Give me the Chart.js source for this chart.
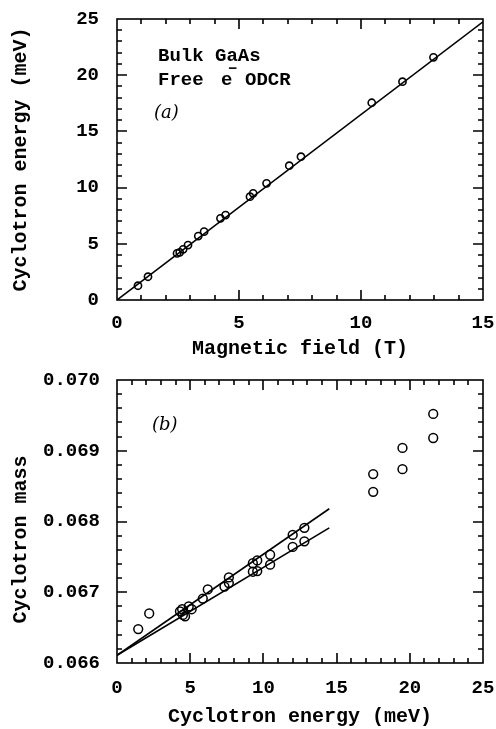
<!DOCTYPE html>
<html>
<head>
<meta charset="utf-8">
<script src="https://cdn.jsdelivr.net/npm/chart.js@4/dist/chart.umd.min.js"></script>
<style>
  html, body { margin: 0; padding: 0; background: #fff; }
  #wrap { position: relative; width: 496px; height: 729px; }
  canvas { position: absolute; left: 0; }
</style>
</head>
<body>
<div id="wrap">
  <canvas id="cTop" width="496" height="365" style="top:0"></canvas>
  <canvas id="cBot" width="496" height="364" style="top:365px"></canvas>
</div>
<script>
// panel (a): cyclotron energy vs magnetic field
const fieldT = [0.86, 1.27, 2.46, 2.57, 2.71, 2.91, 3.33, 3.57, 4.24, 4.45, 5.45, 5.58, 6.13, 7.06, 7.54, 10.44, 11.70, 12.97]
const energyA = [1.27, 2.07, 4.15, 4.24, 4.51, 4.89, 5.69, 6.08, 7.27, 7.56, 9.19, 9.49, 10.38, 11.95, 12.75, 17.55, 19.42, 21.59]
const fitA = [[0, 0], [15, 24.75]]

// panel (b): cyclotron mass vs cyclotron energy
const energyB = [1.45, 2.2, 4.3, 4.45, 4.5, 4.65, 4.9, 5.1, 5.86, 6.2, 7.34, 7.64, 7.64, 9.28, 9.58, 9.28, 9.58, 10.46, 10.46, 12.0, 12.0, 12.8, 12.8, 17.5, 17.5, 19.5, 19.5, 21.6, 21.6]
const massB = [0.06648, 0.06670, 0.06673, 0.06676, 0.06668, 0.06666, 0.06680, 0.06676, 0.06691, 0.06704, 0.06708, 0.06721, 0.06713, 0.06741, 0.06745, 0.06729, 0.06730, 0.06753, 0.06739, 0.06781, 0.06764, 0.06791, 0.06772, 0.06867, 0.06842, 0.06904, 0.06874, 0.06952, 0.06918]
const fitUpper = [[0, 0.06611], [14.5, 0.06818]]
const fitLower = [[0, 0.06611], [14.5, 0.06791]]

// [min, max, major step, minor step]
const ticksA = { x: [0, 15, 5, 1], y: [0, 25, 5, 1] }
const ticksB = { x: [0, 25, 5, 1], y: [0.066, 0.070, 0.001, 0.0002] }

const MONO = "'Liberation Mono', 'Courier New', monospace"
const pts = (xs, ys) => xs.map((x, i) => ({ x, y: ys[i] }))
const pairs = arr => arr.map(([x, y]) => ({ x, y }))

// frame, inward ticks on all four sides and in-plot notes
function frameTicks (t, notes) {
  return {
    id: 'frameTicks',
    afterDraw (chart) {
      const ctx = chart.ctx
      const a = chart.chartArea
      ctx.save()
      ctx.fillStyle = '#000'
      ctx.strokeStyle = '#000'
      ctx.lineWidth = 1.6
      ctx.beginPath()
      for (const [scale, lim, horiz] of [[chart.scales.x, t.x, true], [chart.scales.y, t.y, false]]) {
        for (const [step, len] of [[lim[3], 5], [lim[2], 10]]) {
          const n = Math.round((lim[1] - lim[0]) / step)
          for (let i = 1; i < n; i++) {
            const p = Math.round(scale.getPixelForValue(lim[0] + i * step))
            if (horiz) {
              ctx.moveTo(p, a.bottom); ctx.lineTo(p, a.bottom - len)
              ctx.moveTo(p, a.top); ctx.lineTo(p, a.top + len)
            } else {
              ctx.moveTo(a.left, p); ctx.lineTo(a.left + len, p)
              ctx.moveTo(a.right, p); ctx.lineTo(a.right - len, p)
            }
          }
        }
      }
      ctx.stroke()
      ctx.strokeRect(a.left, a.top, a.right - a.left, a.bottom - a.top)
      ctx.textBaseline = 'alphabetic'
      for (const note of notes) {
        ctx.font = note.font
        ctx.fillText(note.text, a.left + note.dx, a.top + note.dy)
      }
      ctx.restore()
    }
  }
}

function axes (t, xTitle, yTitle, xh, xGap, xTitlePad, yGap, fmt) {
  const tickFont = { family: MONO, size: 19, weight: 'bold' }
  const titleFont = { family: MONO, size: 20, weight: 'bold' }
  return {
    x: {
      type: 'linear', min: t.x[0], max: t.x[1],
      grid: { display: false, drawTicks: true, tickLength: xGap },
      border: { display: false },
      ticks: { stepSize: t.x[2], color: '#000', font: tickFont, padding: 0, maxRotation: 0 },
      title: { display: true, text: xTitle, color: '#000', font: titleFont, padding: { top: 0, bottom: xTitlePad } },
      afterFit: s => { s.height = xh }
    },
    y: {
      type: 'linear', min: t.y[0], max: t.y[1],
      grid: { display: false, drawTicks: true, tickLength: yGap },
      border: { display: false },
      ticks: { stepSize: t.y[2], color: '#000', font: tickFont, padding: 0, callback: fmt },
      title: { display: true, text: yTitle, color: '#000', font: titleFont, padding: { top: 9, bottom: 0 } },
      afterFit: s => { s.width = 117 }
    }
  }
}

const common = {
  responsive: false,
  animation: false,
  devicePixelRatio: 1,
  plugins: { legend: { display: false }, tooltip: { enabled: false } }
}

const dotA = { type: 'scatter', pointStyle: 'circle', pointRadius: 3.6, pointBorderWidth: 1.6, borderColor: '#000', backgroundColor: 'rgba(0,0,0,0)' }
const dotB = { type: 'scatter', pointStyle: 'circle', pointRadius: 4.4, pointBorderWidth: 1.5, borderColor: '#000', backgroundColor: 'rgba(0,0,0,0)' }
const fitLine = { type: 'line', pointRadius: 0, borderWidth: 1.6, borderColor: '#000', fill: false, tension: 0 }
const noteFont = `bold 19px ${MONO}`
const italic = `italic 18px 'DejaVu Serif', serif`

new Chart(document.getElementById('cTop'), {
  data: {
    datasets: [
      { ...fitLine, data: pairs(fitA) },
      { ...dotA, data: pts(fieldT, energyA) }
    ]
  },
  options: {
    ...common,
    layout: { padding: { top: 19, right: 13, left: 0, bottom: 0 } },
    scales: axes(ticksA, 'Magnetic field (T)', 'Cyclotron energy (meV)', 65, 12, 4, 18, v => v)
  },
  plugins: [frameTicks(ticksA, [
    { text: 'Bulk GaAs', dx: 41, dy: 42, font: noteFont },
    { text: 'Free', dx: 41, dy: 66, font: noteFont },
    { text: 'e', dx: 104, dy: 66, font: noteFont },
    { text: '\u2212', dx: 111, dy: 54, font: `bold 15px ${MONO}` },
    { text: 'ODCR', dx: 128, dy: 66, font: noteFont },
    { text: '(a)', dx: 37, dy: 99, font: italic }
  ])]
})

new Chart(document.getElementById('cBot'), {
  data: {
    datasets: [
      { ...fitLine, data: pairs(fitUpper) },
      { ...fitLine, data: pairs(fitLower) },
      { ...dotB, data: pts(energyB, massB) }
    ]
  },
  options: {
    ...common,
    layout: { padding: { top: 15, right: 13, left: 0, bottom: 0 } },
    scales: axes(ticksB, 'Cyclotron energy (meV)', 'Cyclotron mass   ', 66, 14, 0, 17, v => v.toFixed(3))
  },
  plugins: [frameTicks(ticksB, [
    { text: '(b)', dx: 35, dy: 50, font: italic }
  ])]
})
</script>
</body>
</html>
